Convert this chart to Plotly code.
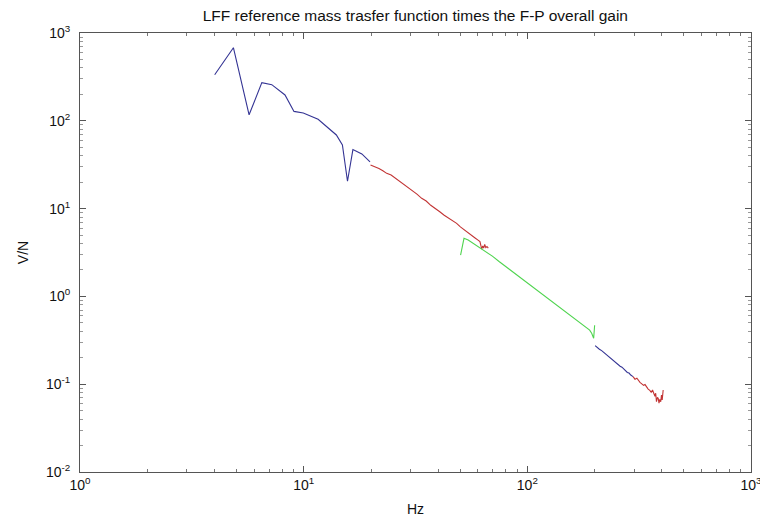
import plotly.graph_objects as go

# Segment 1 (blue, low frequency)
f_blue1 = [4.0, 4.85, 5.7, 6.5, 7.2, 8.25, 9.05, 9.96, 11.6, 12.7, 14.0, 14.9, 15.7, 16.6, 18.2, 19.8]
v_blue1 = [335, 680, 117, 272, 258, 197, 128, 123, 104, 86, 69, 53, 20.5, 47, 42, 34]

# Segment 2 (red)
f_red1 = [19.9, 20.8, 21.7, 22.6, 23.5, 24.6, 25.7, 26.8, 27.9, 29.2, 30.6, 32.1, 33.7, 35.3, 37.0, 38.8,
          40.6, 42.5, 44.4, 46.3, 48.3, 50.2, 52.1, 53.8, 55.4, 57.0, 58.6, 60.0, 61.4, 62.0, 62.5, 63.2,
          63.8, 64.5, 65.2, 66.0, 66.9]
v_red1 = [31.4, 30.1, 28.6, 27.0, 25.2, 24.1, 22.2, 20.9, 19.4, 17.6, 16.0, 14.6, 13.1, 12.2, 10.9, 10.1,
          9.2, 8.4, 7.8, 7.2, 6.8, 6.2, 5.8, 5.4, 5.2, 4.9, 4.6, 4.4, 4.2, 3.8, 3.45, 3.75,
          3.55, 3.9, 3.6, 3.7, 3.55]

# Segment 3 (green)
f_green = [50.3, 52.1, 54.4, 57, 60, 62.5, 66, 70, 75, 80, 85, 90, 95, 100, 105, 110, 115, 120, 125, 130,
           135, 140, 145, 150, 155, 160, 165, 170, 175, 180, 185, 190, 194, 196, 198, 200]
v_green = [2.96, 4.59, 4.39, 4.05, 3.75, 3.53, 3.18, 2.86, 2.48, 2.19, 1.96, 1.74, 1.57, 1.43, 1.31, 1.19,
           1.09, 1.01, 0.925, 0.86, 0.805, 0.745, 0.70, 0.655, 0.612, 0.577, 0.543, 0.515, 0.487, 0.46,
           0.44, 0.413, 0.38, 0.36, 0.333, 0.47]

# Segment 4 (blue, high frequency)
f_blue2 = [201, 205, 210, 215, 220, 225, 230, 235, 240, 245, 250, 255, 260, 265, 270, 275, 280, 285, 290, 297]
v_blue2 = [0.275, 0.262, 0.250, 0.241, 0.229, 0.219, 0.207, 0.200, 0.190, 0.181, 0.176, 0.167, 0.160, 0.156,
           0.148, 0.144, 0.136, 0.134, 0.127, 0.122]

# Segment 5 (red, high frequency)
f_red2 = [297, 303, 309, 314, 319, 325, 331, 336, 342, 347, 353, 358, 363, 368, 372, 375, 378, 382, 385,
          388, 391, 395, 398, 401, 405]
v_red2 = [0.122, 0.114, 0.117, 0.109, 0.105, 0.101, 0.097, 0.099, 0.092, 0.088, 0.085, 0.081, 0.086, 0.076,
          0.073, 0.079, 0.0632, 0.071, 0.069, 0.061, 0.067, 0.0632, 0.0753, 0.066, 0.0859]

title_text = "LFF reference mass trasfer function times the F-P overall gain"
x_title = "Hz"
y_title = "V/N"
x_tickvals = [1, 10, 100, 1000]
x_ticktext = ["10<sup>0</sup>", "10<sup>1</sup>", "10<sup>2</sup>", "10<sup>3</sup>"]
y_tickvals = [0.01, 0.1, 1, 10, 100, 1000]
y_ticktext = ["10<sup>-2</sup>", "10<sup>-1</sup>", "10<sup>0</sup>", "10<sup>1</sup>", "10<sup>2</sup>", "10<sup>3</sup>"]

BLUE = "#343494"
RED = "#c23434"
GREEN = "#4fd44f"
FONT = "Liberation Sans, Arial, sans-serif"

fig = go.Figure()
for fx, vy, col in [(f_blue1, v_blue1, BLUE), (f_red1, v_red1, RED), (f_green, v_green, GREEN),
                    (f_blue2, v_blue2, BLUE), (f_red2, v_red2, RED)]:
    fig.add_trace(go.Scatter(x=fx, y=vy, mode="lines", line=dict(color=col, width=1.1),
                             showlegend=False, hoverinfo="skip"))

minor_x = [m * 10 ** d for d in range(0, 3) for m in range(2, 10)]
minor_y = [m * 10 ** d for d in range(-2, 3) for m in range(2, 10)]

axis_common = dict(
    type="log", showgrid=False, zeroline=False, showline=True, linecolor="#555555", linewidth=1,
    mirror="allticks", ticks="inside", ticklen=6, tickcolor="#555555", tickwidth=1,
    tickfont=dict(family=FONT, size=14, color="#111111"), ticklabeloverflow="allow",
    automargin=False,
)

fig.update_xaxes(**axis_common, range=[-0.0002, 3.0002], tickmode="array", tickvals=x_tickvals,
                 ticktext=x_ticktext,
                 minor=dict(tickmode="array", tickvals=minor_x, ticks="inside", ticklen=3,
                            tickcolor="#777777", showgrid=False),
                 title=dict(text=x_title, font=dict(family=FONT, size=14, color="#111111"), standoff=12))
fig.update_yaxes(**axis_common, range=[-2.0002, 3.0002], tickmode="array", tickvals=y_tickvals,
                 ticktext=y_ticktext,
                 minor=dict(tickmode="array", tickvals=minor_y, ticks="inside", ticklen=3,
                            tickcolor="#999999", showgrid=False),
                 ticklabelstandoff=6,
                 title=dict(text=y_title, font=dict(family=FONT, size=14, color="#111111"), standoff=14))

fig.update_layout(
    width=760, height=523,
    margin=dict(l=80, r=9, t=33, b=51),
    paper_bgcolor="white", plot_bgcolor="white",
    title=dict(text=title_text, x=0.5465, xanchor="center", y=1 - 16 / 523, yanchor="middle",
               font=dict(family=FONT, size=15.5, color="#111111")),
)

fig.write_html("out.html")
